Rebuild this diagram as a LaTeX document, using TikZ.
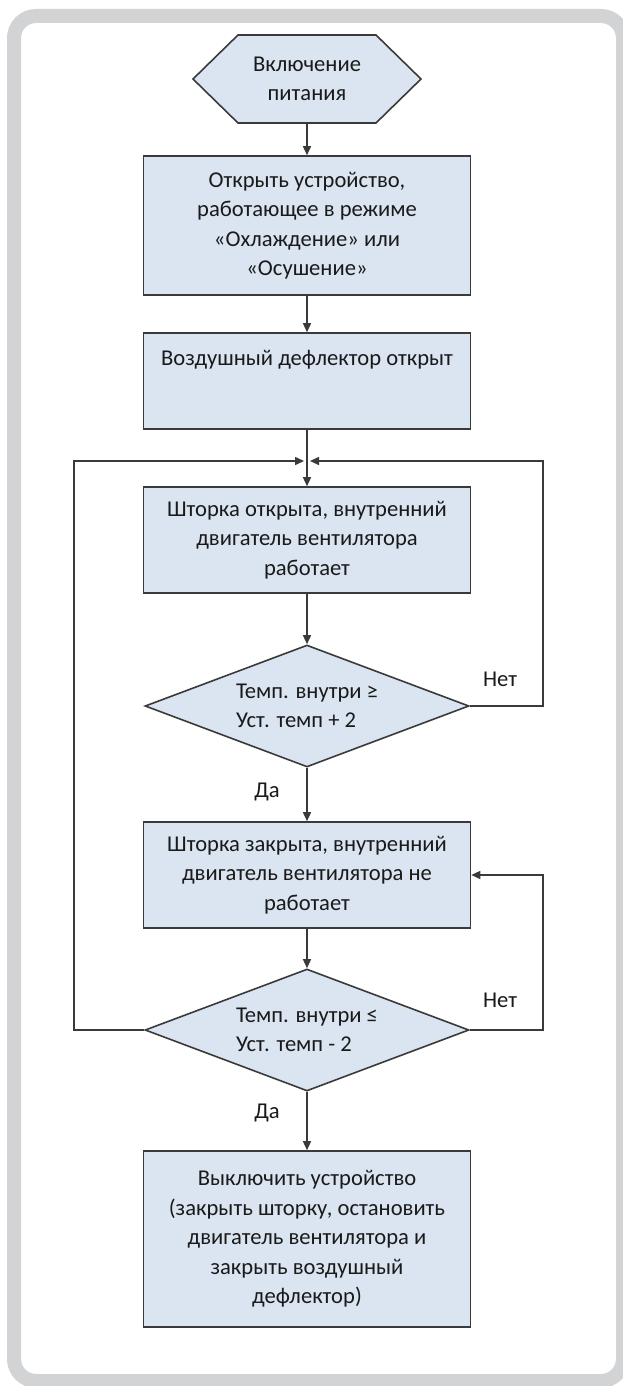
\documentclass[tikz,border=0pt]{standalone}
\usepackage{fontspec}
\setmainfont{Carlito}
\usetikzlibrary{shapes.geometric,arrows.meta}
\definecolor{boxfill}{HTML}{DBE5F1}
\definecolor{boxline}{HTML}{3A3A3A}
\definecolor{framegray}{HTML}{D1D3D4}
\definecolor{txt}{HTML}{1A1A1A}
\newcommand{\chartfont}{\fontsize{22.6pt}{29.5pt}\selectfont}
\tikzset{
  proc/.style={draw=boxline, fill=boxfill, line width=1.6pt, minimum width=327pt,
    inner sep=0pt, align=center, text=txt, font=\chartfont},
  decision/.style={diamond, aspect=2.66, draw=boxline, fill=boxfill, line width=1.6pt,
    minimum width=324pt, minimum height=122pt, inner sep=0pt, align=left,
    text=txt, font=\chartfont},
  flow/.style={draw=boxline, line width=1.5pt, -{Triangle[length=9pt,width=8pt]}},
  lbl/.style={text=txt, font=\chartfont}
}
\begin{document}
\begin{tikzpicture}[x=1pt,y=1pt]
\useasboundingbox (0,0) rectangle (623,-1386);

%Frame
\draw [framegray, line width=14pt, rounded corners=22pt] (14,-16) rectangle (623,-1381);

%Start
\filldraw [fill=boxfill, draw=boxline, line width=1.6pt]
  (193,-79) -- (238,-35) -- (376,-35) -- (421,-79) -- (376,-123) -- (238,-123) -- cycle;
\node [lbl, align=center, minimum width=228pt, minimum height=88pt, inner sep=0pt] (pwr) at (307,-79)
  {Включение\\питания};

%Steps
\node [proc, minimum height=139pt] (open) at (307,-225.5)
  {Открыть устройство,\\работающее в режиме\\«Охлаждение» или\\«Осушение»};
\node [proc, minimum height=96pt, text depth=46pt] (defl) at (307,-381)
  {Воздушный дефлектор открыт};
\node [proc, minimum height=106pt] (shopen) at (307,-540)
  {Шторка открыта, внутренний\\двигатель вентилятора\\работает};
\node [decision] (hot) at (307,-706)
  {Темп. внутри ≥\\Уст. темп + 2};
\node [proc, minimum height=106pt] (shclose) at (307,-875)
  {Шторка закрыта, внутренний\\двигатель вентилятора не\\работает};
\node [decision] (cold) at (307,-1030)
  {Темп. внутри ≤\\Уст. темп - 2};
\node [proc, minimum height=176pt] (off) at (307,-1239)
  {Выключить устройство\\(закрыть шторку, остановить\\двигатель вентилятора и\\закрыть воздушный\\дефлектор)};
\coordinate (merge) at (307,-461);

%Arrows & Labels
\draw [flow] (pwr) -- (open);
\draw [flow] (open) -- (defl);
\draw [flow] (defl) -- (shopen);
\draw [flow] (shopen) -- (hot);
\draw [flow] (hot) -- (shclose);
\draw [flow] (shclose) -- (cold);
\draw [flow] (cold) -- (off);
\draw [flow] (hot.east) -- ++(73,0) |- ([xshift=3pt]merge);
\draw [flow] (cold.east) -- ++(73,0) |- (shclose.east);
\draw [flow] (cold.west) -- ++(-70,0) |- ([xshift=-3pt]merge);
\node [lbl] (no1) at (500,-679) {Нет};
\node [lbl] (yes1) at (267,-792) {Да};
\node [lbl] (no2) at (500,-1000) {Нет};
\node [lbl] (yes2) at (267,-1113) {Да};

\end{tikzpicture}
\end{document}
